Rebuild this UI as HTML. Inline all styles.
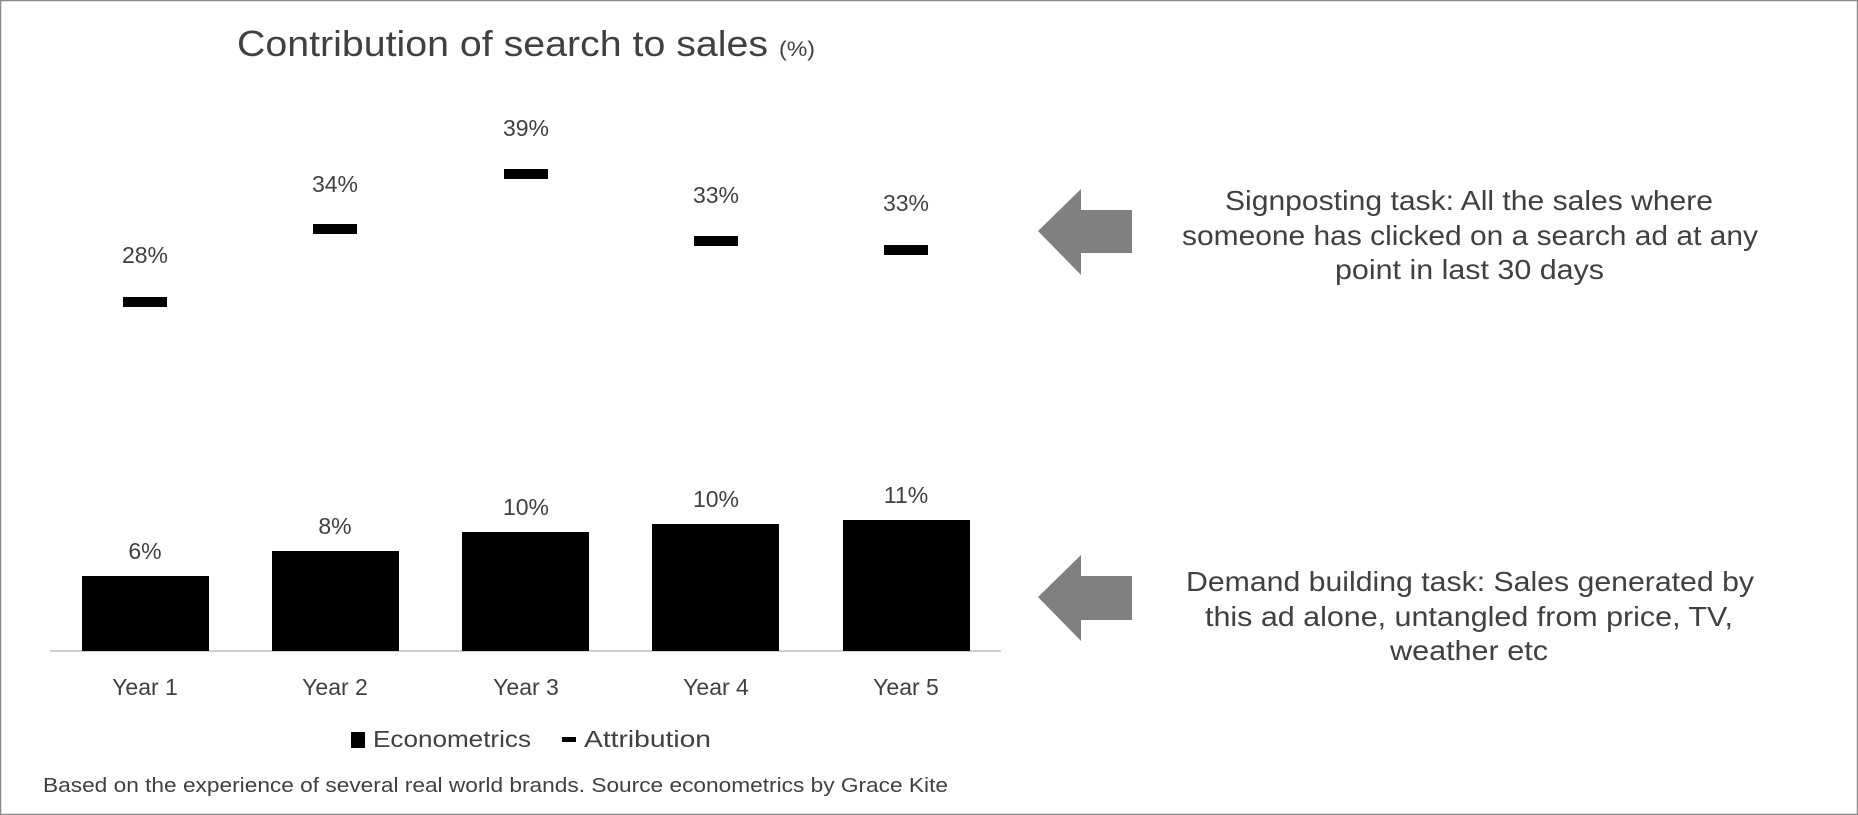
<!DOCTYPE html>
<html><head><meta charset="utf-8"><style>
html,body{margin:0;padding:0;background:#fff}
svg{display:block}
text{font-family:"Liberation Sans",sans-serif;fill:#404040}
</style></head><body>
<svg width="1858" height="815" viewBox="0 0 1858 815">
<rect x="0.5" y="0.5" width="1857" height="814" fill="#fff" stroke="#8a8a8a" stroke-width="1.5"/>
<text x="237" y="56" font-size="36" textLength="531" lengthAdjust="spacingAndGlyphs">Contribution of search to sales</text>
<text x="779" y="56" font-size="21" textLength="36" lengthAdjust="spacingAndGlyphs">(%)</text>
<line x1="50" y1="651" x2="1001" y2="651" stroke="#d0d0d0" stroke-width="2"/>
<g fill="#000">
<rect x="82" y="576" width="127" height="75"/>
<rect x="272" y="551" width="127" height="100"/>
<rect x="462" y="532" width="127" height="119"/>
<rect x="652" y="524" width="127" height="127"/>
<rect x="843" y="520" width="127" height="131"/>
<rect x="123" y="297" width="44" height="10"/>
<rect x="313" y="224" width="44" height="10"/>
<rect x="504" y="169" width="44" height="10"/>
<rect x="694" y="236" width="44" height="10"/>
<rect x="884" y="245" width="44" height="10"/>
</g>
<g font-size="23" text-anchor="middle">
<text x="145" y="263">28%</text>
<text x="335" y="192">34%</text>
<text x="526" y="136">39%</text>
<text x="716" y="203">33%</text>
<text x="906" y="211">33%</text>
<text x="145" y="559">6%</text>
<text x="335" y="534">8%</text>
<text x="526" y="515">10%</text>
<text x="716" y="507">10%</text>
<text x="906" y="503">11%</text>
<text x="145" y="695">Year 1</text>
<text x="335" y="695">Year 2</text>
<text x="526" y="695">Year 3</text>
<text x="716" y="695">Year 4</text>
<text x="906" y="695">Year 5</text>
</g>
<rect x="351" y="732" width="14" height="16" fill="#000"/>
<text x="373" y="747" font-size="23" textLength="158" lengthAdjust="spacingAndGlyphs">Econometrics</text>
<rect x="562" y="737" width="14" height="5" fill="#000"/>
<text x="584" y="747" font-size="23" textLength="127" lengthAdjust="spacingAndGlyphs">Attribution</text>
<text x="43" y="792" font-size="20" textLength="905" lengthAdjust="spacingAndGlyphs">Based on the experience of several real world brands. Source econometrics by Grace Kite</text>
<polygon points="1038,231 1081,189 1081,210 1132,210 1132,253 1081,253 1081,275" fill="#808080"/>
<polygon points="1038,597 1081,555 1081,576 1132,576 1132,620 1081,620 1081,641" fill="#808080"/>
<g font-size="28">
<text x="1225" y="210" textLength="488" lengthAdjust="spacingAndGlyphs">Signposting task: All the sales where</text>
<text x="1182" y="245" textLength="576" lengthAdjust="spacingAndGlyphs">someone has clicked on a search ad at any</text>
<text x="1335" y="279" textLength="269" lengthAdjust="spacingAndGlyphs">point in last 30 days</text>
<text x="1186" y="591" textLength="568" lengthAdjust="spacingAndGlyphs">Demand building task: Sales generated by</text>
<text x="1205" y="626" textLength="528" lengthAdjust="spacingAndGlyphs">this ad alone, untangled from price, TV,</text>
<text x="1390" y="660" textLength="158" lengthAdjust="spacingAndGlyphs">weather etc</text>
</g>
</svg>
</body></html>
